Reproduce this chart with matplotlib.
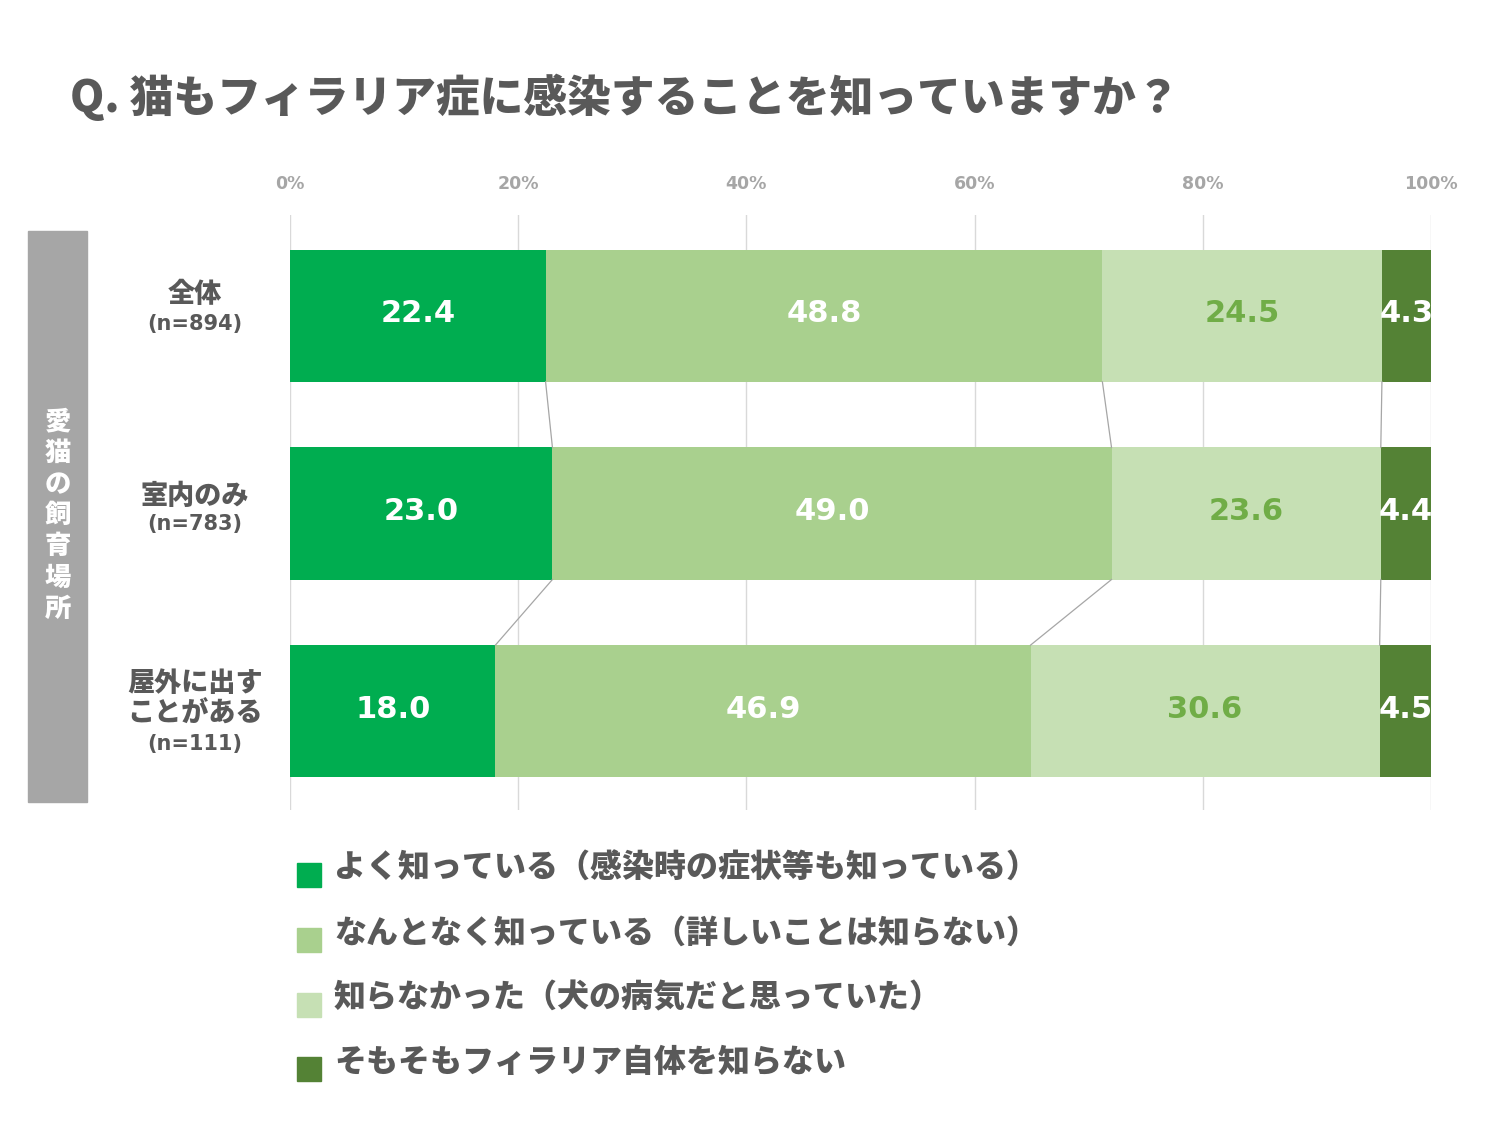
import matplotlib
matplotlib.use("Agg")
import matplotlib.pyplot as plt
import numpy as np

plt.rcParams['font.family'] = ['Noto Sans CJK JP', 'DejaVu Sans']

cat_lines = [["全体"], ["室内のみ"], ["屋外に出す", "ことがある"]]
cat_n = ["(n=894)", "(n=783)", "(n=111)"]
series_names = ["よく知っている（感染時の症状等も知っている）",
                "なんとなく知っている（詳しいことは知らない）",
                "知らなかった（犬の病気だと思っていた）",
                "そもそもフィラリア自体を知らない"]
well_known = [22.4, 23.0, 18.0]
somewhat = [48.8, 49.0, 46.9]
not_known = [24.5, 23.6, 30.6]
never_heard = [4.3, 4.4, 4.5]
ticks = [0, 20, 40, 60, 80, 100]
tick_labels = ["0%", "20%", "40%", "60%", "80%", "100%"]

colors = ["#00AD50", "#A9D08E", "#C6E0B4", "#548235"]
label_colors = ["white", "white", "#70AD47", "white"]
dark = "#595959"

fig = plt.figure(figsize=(15.12, 11.34), dpi=100)
ax = fig.add_axes([290/1512, 1-810/1134, 1141/1512, 595/1134])

data = np.array([well_known, somewhat, not_known, never_heard])
ypos = np.arange(len(cat_lines))
h = 0.668
left = np.zeros(len(ypos))
bounds = []
for i, vals in enumerate(data):
    ax.barh(ypos, vals, left=left, height=h, color=colors[i], zorder=2, linewidth=0)
    for j, v in enumerate(vals):
        ax.text(left[j] + v/2, ypos[j] - 0.01, f"{v:.1f}", ha='center', va='center',
                color=label_colors[i], fontsize=22, fontweight='bold',
                family=['DejaVu Sans'], zorder=4)
    left = left + vals
    bounds.append(left.copy())

# connector lines between rows
for b in bounds[:-1]:
    for j in range(len(ypos) - 1):
        ax.plot([b[j], b[j+1]], [ypos[j] + h/2, ypos[j+1] - h/2],
                color="#A6A6A6", lw=0.9, zorder=3)

ax.set_xlim(0, 100)
ax.set_ylim(2.5, -0.51)
for t in ticks:
    ax.axvline(t, color="#D9D9D9", lw=1, zorder=1)
for s in ax.spines.values():
    s.set_visible(False)
ax.set_yticks([])
ax.set_xticks([])
for t, lab in zip(ticks, tick_labels):
    fig.text((290 + t/100*1141)/1512, 1-184/1134, lab, ha='center', va='center',
             color="#A6A6A6", fontsize=12.5, fontweight='bold', family=['DejaVu Sans'])

# category labels
main_y = [[294], [496], [683, 713]]
n_y = [324, 524, 744]
for j in range(len(cat_lines)):
    for line, yy in zip(cat_lines[j], main_y[j]):
        fig.text(195/1512, 1-yy/1134, line, ha='center', va='center',
                 color=dark, fontsize=19.5, fontweight='heavy')
    fig.text(195/1512, 1-n_y[j]/1134, cat_n[j], ha='center', va='center',
             color=dark, fontsize=15, fontweight='bold', family=['DejaVu Sans'])

# left gray box with vertical text
fig.patches.append(plt.Rectangle((28/1512, 1-802/1134), 59/1512, 571/1134,
                                 transform=fig.transFigure, color="#A6A6A6", zorder=0))
vtext = "愛猫の飼育場所"
for k, ch in enumerate(vtext):
    fig.text(58/1512, 1-(421 + k*31.3)/1134, ch, ha='center', va='center',
             color='white', fontsize=19, fontweight='heavy')

# title
fig.text(70/1512, 1-97/1134, "Q. 猫もフィラリア症に感染することを知っていますか？",
         ha='left', va='center', color=dark, fontsize=31.5, fontweight='heavy')

# legend
leg_y = [868, 933, 998, 1062]
for k, name in enumerate(series_names):
    fig.patches.append(plt.Rectangle((297/1512, 1-(leg_y[k]+19)/1134), 24/1512, 24/1134,
                                     transform=fig.transFigure, color=colors[k]))
    fig.text(334/1512, 1-leg_y[k]/1134, name, ha='left', va='center',
             color=dark, fontsize=23, fontweight='heavy')

fig.savefig("out.png", dpi=100, facecolor='white')
